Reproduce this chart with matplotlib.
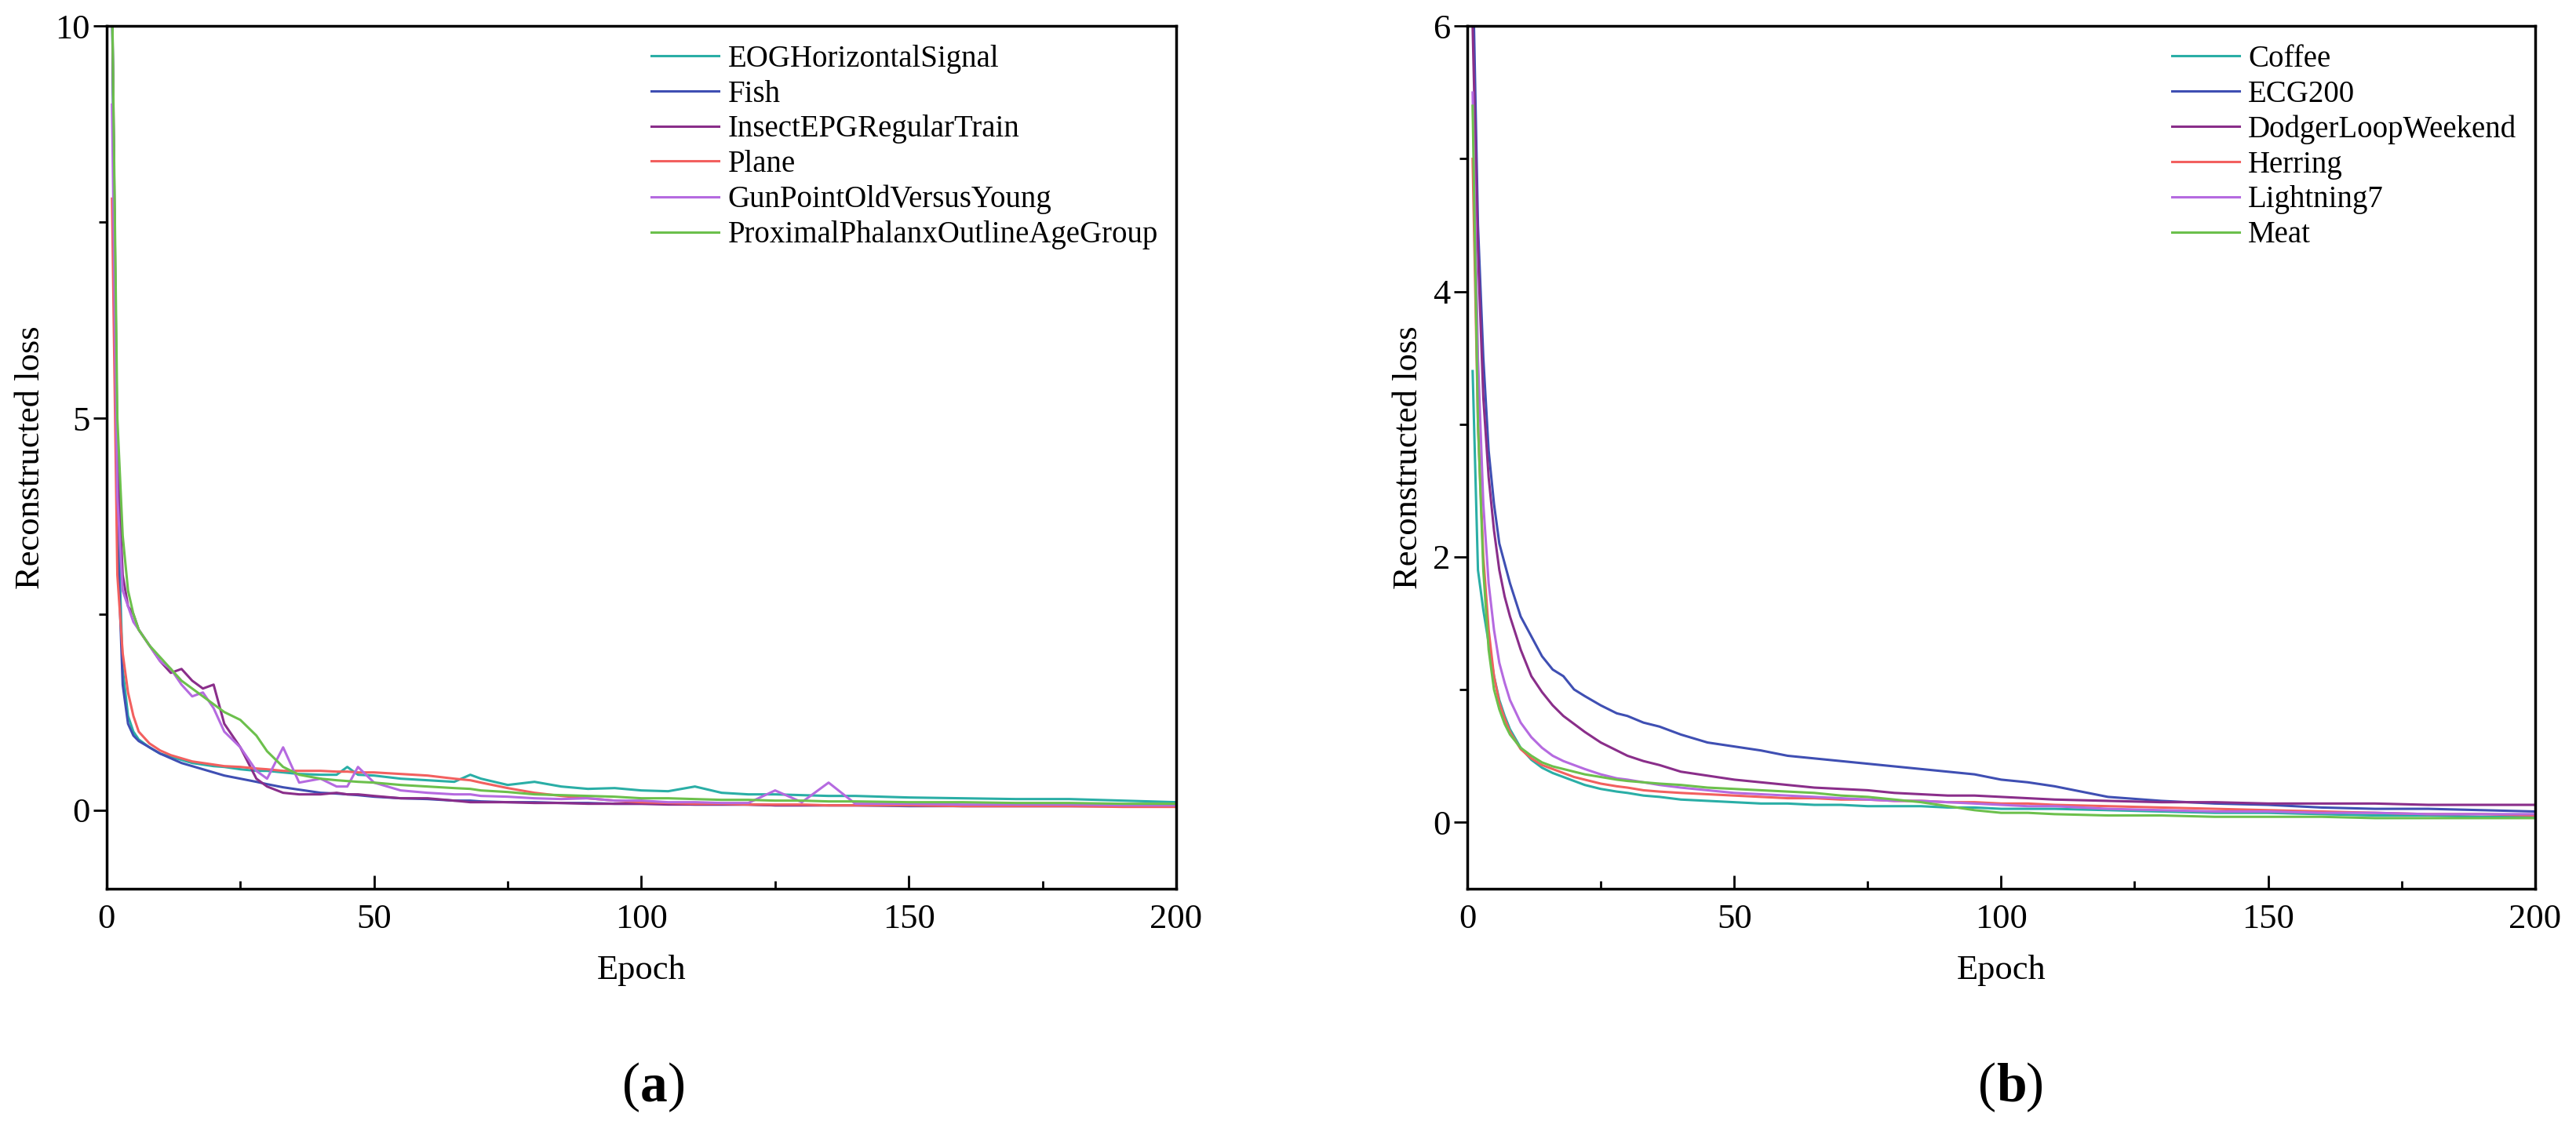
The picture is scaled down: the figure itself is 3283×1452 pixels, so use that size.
import matplotlib
matplotlib.use("Agg")
import matplotlib.pyplot as plt
from matplotlib.ticker import MultipleLocator

plt.rcParams['font.family'] = ['Liberation Serif', 'DejaVu Serif']

epochs_a = [1,2,3,4,5,6,8,10,12,14,16,18,20,22,25,28,30,33,36,40,43,45,47,50,55,60,65,68,70,75,80,85,90,95,100,105,110,115,120,125,130,135,140,150,160,170,180,190,200]
eog = [10.5,4.0,1.8,1.2,1.0,0.9,0.8,0.72,0.68,0.64,0.6,0.58,0.56,0.55,0.52,0.5,0.5,0.48,0.46,0.45,0.45,0.55,0.45,0.44,0.4,0.38,0.36,0.45,0.4,0.32,0.36,0.3,0.27,0.28,0.25,0.24,0.3,0.22,0.2,0.2,0.19,0.18,0.18,0.16,0.15,0.14,0.14,0.12,0.1]
fish = [10.5,3.5,1.6,1.1,0.95,0.88,0.8,0.72,0.66,0.6,0.56,0.52,0.48,0.44,0.4,0.36,0.33,0.29,0.26,0.22,0.21,0.2,0.19,0.17,0.15,0.14,0.12,0.12,0.11,0.1,0.1,0.09,0.09,0.08,0.08,0.08,0.07,0.07,0.07,0.06,0.06,0.06,0.06,0.05,0.05,0.05,0.05,0.05,0.05]
insect = [10.5,4.5,3.0,2.6,2.5,2.3,2.1,1.9,1.75,1.8,1.65,1.55,1.6,1.1,0.8,0.4,0.3,0.22,0.2,0.2,0.22,0.2,0.2,0.18,0.15,0.15,0.12,0.1,0.1,0.1,0.09,0.09,0.08,0.08,0.08,0.07,0.07,0.07,0.07,0.06,0.06,0.06,0.06,0.06,0.05,0.05,0.05,0.05,0.05]
plane = [7.8,3.0,2.0,1.5,1.2,1.0,0.85,0.76,0.7,0.66,0.62,0.6,0.58,0.56,0.55,0.53,0.52,0.5,0.5,0.5,0.49,0.49,0.48,0.48,0.46,0.44,0.4,0.38,0.35,0.28,0.22,0.18,0.15,0.12,0.1,0.09,0.08,0.08,0.07,0.07,0.07,0.06,0.06,0.06,0.05,0.05,0.05,0.04,0.04]
gunpoint = [9.0,4.0,2.8,2.6,2.4,2.3,2.1,1.9,1.8,1.6,1.45,1.5,1.3,1.0,0.8,0.5,0.4,0.8,0.35,0.4,0.3,0.3,0.55,0.35,0.25,0.22,0.2,0.2,0.18,0.17,0.15,0.14,0.15,0.12,0.12,0.1,0.1,0.09,0.09,0.25,0.1,0.35,0.08,0.08,0.07,0.07,0.07,0.06,0.06]
proximal = [10.5,5.0,3.5,2.8,2.5,2.3,2.1,1.95,1.8,1.65,1.55,1.45,1.35,1.25,1.15,0.95,0.75,0.55,0.45,0.4,0.38,0.37,0.36,0.35,0.32,0.3,0.28,0.27,0.25,0.23,0.2,0.19,0.18,0.17,0.15,0.15,0.14,0.13,0.13,0.12,0.12,0.11,0.11,0.1,0.1,0.09,0.09,0.08,0.08]
labels_a = ["EOGHorizontalSignal", "Fish", "InsectEPGRegularTrain", "Plane", "GunPointOldVersusYoung", "ProximalPhalanxOutlineAgeGroup"]

epochs_b = [1,2,3,4,5,6,7,8,10,12,14,16,18,20,22,25,28,30,33,36,40,45,50,55,60,65,70,75,80,85,90,95,100,105,110,120,130,140,150,160,170,180,190,200]
coffee = [3.4,1.9,1.6,1.35,1.1,0.92,0.8,0.7,0.56,0.47,0.41,0.37,0.34,0.31,0.28,0.25,0.23,0.22,0.2,0.19,0.17,0.16,0.15,0.14,0.14,0.13,0.13,0.12,0.12,0.12,0.11,0.11,0.1,0.1,0.1,0.09,0.08,0.07,0.07,0.06,0.05,0.05,0.04,0.04]
ecg200 = [6.5,4.5,3.5,2.8,2.4,2.1,1.95,1.8,1.55,1.4,1.25,1.15,1.1,1.0,0.95,0.88,0.82,0.8,0.75,0.72,0.66,0.6,0.57,0.54,0.5,0.48,0.46,0.44,0.42,0.4,0.38,0.36,0.32,0.3,0.27,0.19,0.16,0.14,0.13,0.11,0.1,0.1,0.09,0.08]
dodger = [6.0,4.3,3.2,2.6,2.2,1.9,1.7,1.55,1.3,1.1,0.98,0.88,0.8,0.74,0.68,0.6,0.54,0.5,0.46,0.43,0.38,0.35,0.32,0.3,0.28,0.26,0.25,0.24,0.22,0.21,0.2,0.2,0.19,0.18,0.17,0.16,0.15,0.15,0.14,0.14,0.14,0.13,0.13,0.13]
herring = [5.0,3.0,2.0,1.45,1.1,0.9,0.78,0.68,0.55,0.48,0.43,0.4,0.37,0.34,0.32,0.29,0.27,0.26,0.24,0.23,0.22,0.21,0.2,0.19,0.18,0.18,0.17,0.17,0.16,0.16,0.15,0.15,0.14,0.14,0.13,0.12,0.11,0.1,0.09,0.08,0.07,0.06,0.06,0.05]
lightning7 = [5.5,3.5,2.4,1.8,1.45,1.2,1.05,0.92,0.75,0.64,0.56,0.5,0.46,0.43,0.4,0.36,0.33,0.32,0.3,0.28,0.26,0.24,0.22,0.21,0.2,0.19,0.18,0.17,0.16,0.16,0.15,0.14,0.13,0.12,0.12,0.1,0.09,0.08,0.08,0.07,0.07,0.06,0.06,0.06]
meat = [5.4,3.0,1.9,1.3,1.0,0.85,0.74,0.66,0.56,0.5,0.45,0.42,0.4,0.38,0.36,0.34,0.32,0.31,0.3,0.29,0.28,0.26,0.25,0.24,0.23,0.22,0.2,0.19,0.17,0.15,0.12,0.09,0.07,0.07,0.06,0.05,0.05,0.04,0.04,0.04,0.03,0.03,0.03,0.03]
labels_b = ["Coffee", "ECG200", "DodgerLoopWeekend", "Herring", "Lightning7", "Meat"]

colors = ["#2aaea6", "#3f4fb3", "#8a2e8a", "#f2605f", "#b56ae0", "#6cc04c"]

fig = plt.figure(figsize=(32.83, 14.52), dpi=100)
ax1 = fig.add_axes([0.0414, 0.220, 0.4152, 0.757])
ax2 = fig.add_axes([0.5696, 0.220, 0.4145, 0.757])

def style(ax, series, labels, epochs, ylim, ymaj, ymin):
    for s, lab, c in zip(series, labels, colors):
        ax.plot(epochs, s, color=c, lw=2.2, label=lab)
    ax.set_xlim(0, 200)
    ax.set_ylim(*ylim)
    ax.xaxis.set_major_locator(MultipleLocator(50))
    ax.xaxis.set_minor_locator(MultipleLocator(25))
    ax.yaxis.set_major_locator(MultipleLocator(ymaj))
    ax.yaxis.set_minor_locator(MultipleLocator(ymin))
    ax.tick_params(axis='x', which='both', direction='in', labelsize=32, pad=14)
    ax.tick_params(axis='y', which='both', direction='out', labelsize=32)
    ax.tick_params(which='major', length=12, width=2)
    ax.tick_params(which='minor', length=7, width=2)
    for sp in ax.spines.values():
        sp.set_linewidth(2.5)
    ax.set_xlabel("Epoch", fontsize=32, labelpad=18)
    ax.set_ylabel("Reconstructed loss", fontsize=32, labelpad=8)
    ax.legend(loc='upper right', frameon=False, fontsize=28, handlelength=2.2,
              labelspacing=0.2, borderaxespad=0.2, handletextpad=0.3)

style(ax1, [eog, fish, insect, plane, gunpoint, proximal], labels_a, epochs_a, (-1, 10), 5, 2.5)
style(ax2, [coffee, ecg200, dodger, herring, lightning7, meat], labels_b, epochs_b, (-0.5, 6), 2, 1)

fig.text(0.2486, 0.045, "(", fontsize=50, ha='right', va='center')
fig.text(0.2486, 0.045, "a", fontsize=50, ha='left', va='center', fontweight='bold')
fig.text(0.2486 + 0.0105, 0.045, ")", fontsize=50, ha='left', va='center')
fig.text(0.775, 0.045, "(", fontsize=50, ha='right', va='center')
fig.text(0.775, 0.045, "b", fontsize=50, ha='left', va='center', fontweight='bold')
fig.text(0.775 + 0.0115, 0.045, ")", fontsize=50, ha='left', va='center')

fig.savefig("out.png", dpi=100)
